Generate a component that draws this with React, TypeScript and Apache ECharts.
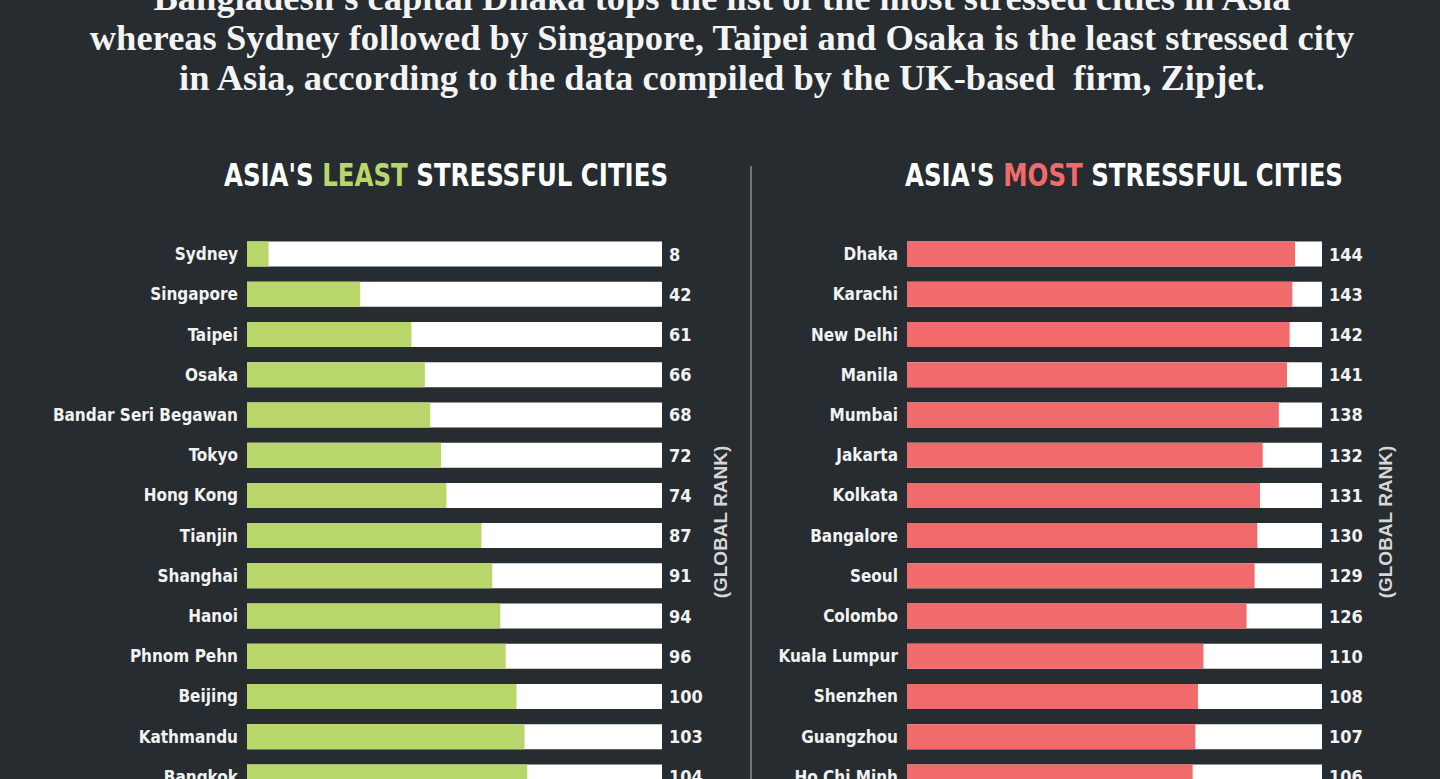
import React, { useEffect, useRef } from "react";
import * as echarts from "echarts";

const leastCities = ["Sydney", "Singapore", "Taipei", "Osaka", "Bandar Seri Begawan", "Tokyo", "Hong Kong", "Tianjin", "Shanghai", "Hanoi", "Phnom Pehn", "Beijing", "Kathmandu", "Bangkok"];
const leastRanks = [8, 42, 61, 66, 68, 72, 74, 87, 91, 94, 96, 100, 103, 104];
const mostCities = ["Dhaka", "Karachi", "New Delhi", "Manila", "Mumbai", "Jakarta", "Kolkata", "Bangalore", "Seoul", "Colombo", "Kuala Lumpur", "Shenzhen", "Guangzhou", "Ho Chi Minh"];
const mostRanks = [144, 143, 142, 141, 138, 132, 131, 130, 129, 126, 110, 108, 107, 106];
const rankMax = 154;

const introLines = [
  "Bangladesh's capital Dhaka tops the list of the most stressed cities in Asia",
  "whereas Sydney followed by Singapore, Taipei and Osaka is the least stressed city",
  "in Asia, according to the data compiled by the UK-based  firm, Zipjet.",
];

const BG = "#262c2f";
const GREEN = "#b9d66b";
const RED = "#f26b6c";
const COND = "'DejaVu Sans Condensed', 'DejaVu Sans', sans-serif";

export default function App() {
  const ref = useRef<HTMLDivElement>(null);
  useEffect(() => {
    const chart = echarts.init(ref.current!, null, { renderer: "svg" });
    const gridTop = 234;
    const gridHeight = 563;
    const mkYAxes = (gridIndex: number, cats: string[], ranks: number[]) => [
      {
        type: "category",
        gridIndex,
        data: cats,
        inverse: true,
        axisLine: { show: false },
        axisTick: { show: false },
        axisLabel: { color: "#f2f2f2", fontFamily: COND, fontWeight: "bold", fontSize: 17, margin: 9 },
      },
      {
        type: "category",
        gridIndex,
        position: "right",
        data: ranks.map(String),
        inverse: true,
        axisLine: { show: false },
        axisTick: { show: false },
        axisLabel: { color: "#f2f2f2", fontFamily: COND, fontWeight: "bold", fontSize: 18, margin: 7 },
      },
    ];
    const mkXAxis = (gridIndex: number) => ({
      type: "value",
      gridIndex,
      min: 0,
      max: rankMax,
      show: false,
    });
    const rich = (accent: string) => ({
      w: { fill: "#ffffff", font: `bold 32px ${COND}` },
      a: { fill: accent, font: `bold 32px ${COND}` },
    });
    const rankLabel = (x: number) => ({
      type: "text",
      x,
      y: 522,
      rotation: Math.PI / 2,
      style: {
        text: "(GLOBAL RANK)",
        fill: "#d6d6d6",
        font: "bold 19px 'Liberation Sans', sans-serif",
        align: "center",
        verticalAlign: "middle",
      },
    });
    chart.setOption({
      animation: false,
      backgroundColor: BG,
      grid: [
        { left: 247, width: 415, top: gridTop, height: gridHeight, outerBoundsMode: "none", containLabel: false },
        { left: 907, width: 415, top: gridTop, height: gridHeight, outerBoundsMode: "none", containLabel: false },
      ],
      xAxis: [mkXAxis(0), mkXAxis(1)],
      yAxis: [...mkYAxes(0, leastCities, leastRanks), ...mkYAxes(1, mostCities, mostRanks)],
      series: [
        {
          type: "bar",
          xAxisIndex: 0,
          yAxisIndex: 0,
          data: leastRanks,
          barWidth: 25,
          itemStyle: { color: GREEN },
          showBackground: true,
          backgroundStyle: { color: "#ffffff" },
        },
        {
          type: "bar",
          xAxisIndex: 1,
          yAxisIndex: 2,
          data: mostRanks,
          barWidth: 25,
          itemStyle: { color: RED },
          showBackground: true,
          backgroundStyle: { color: "#ffffff" },
        },
      ],
      graphic: [
        ...introLines.map((t, i) => ({
          type: "text",
          x: 722,
          y: -3 + i * 40,
          style: {
            text: t,
            fill: "#f4f4f4",
            font: "bold 36.5px 'Liberation Serif', serif",
            align: "center",
            verticalAlign: "middle",
          },
        })),
        {
          type: "text",
          x: 446,
          y: 175,
          scaleX: 0.85,
          style: {
            text: "{w|ASIA'S }{a|LEAST}{w| STRESSFUL CITIES}",
            rich: rich(GREEN),
            align: "center",
            verticalAlign: "middle",
          },
        },
        {
          type: "text",
          x: 1124,
          y: 175,
          scaleX: 0.85,
          style: {
            text: "{w|ASIA'S }{a|MOST}{w| STRESSFUL CITIES}",
            rich: rich(RED),
            align: "center",
            verticalAlign: "middle",
          },
        },
        {
          type: "line",
          shape: { x1: 751, y1: 166, x2: 751, y2: 779 },
          style: { stroke: "#8a8f92", lineWidth: 1.5 },
        },
        rankLabel(720),
        rankLabel(1385),
      ],
    });
    return () => chart.dispose();
  }, []);
  return (
    <div
      ref={ref}
      style={{ position: "fixed", left: 0, top: 0, width: 1440, height: 779, background: BG }}
    />
  );
}
